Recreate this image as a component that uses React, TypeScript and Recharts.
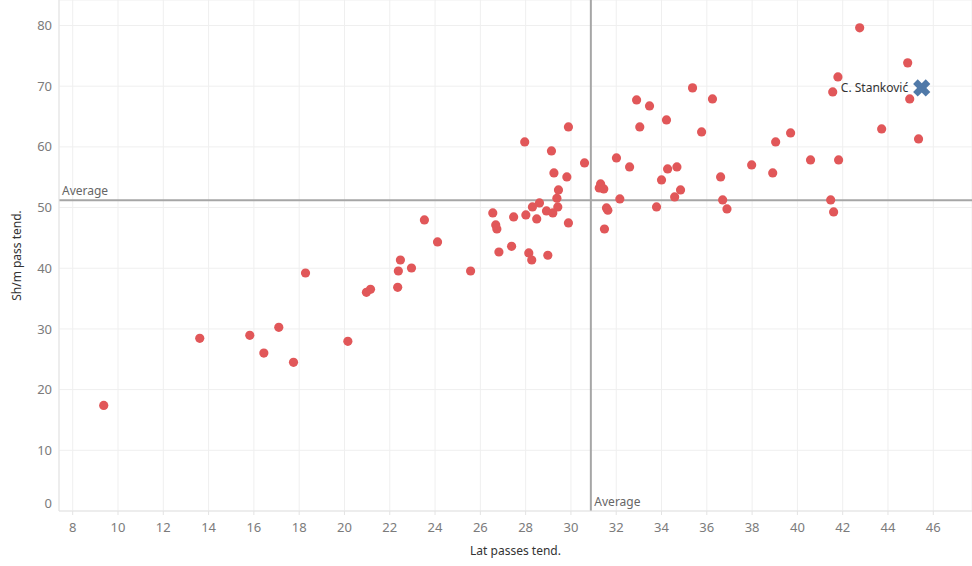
import React from 'react';
import { ScatterChart, Scatter, XAxis, YAxis, CartesianGrid, ReferenceLine } from 'recharts';

const latPasses = [
  9.37, 13.61, 15.82, 16.44, 17.1, 17.75, 18.28, 20.15, 20.97, 21.15,
  22.35, 22.38, 22.47, 22.96, 23.53, 24.11, 25.57, 26.55, 26.68, 26.73,
  26.82, 27.38, 27.47, 27.96, 28.01, 28.14, 28.27, 28.3, 28.49, 28.61,
  28.92, 28.98, 29.14, 29.2, 29.25, 29.38, 29.42, 29.45, 29.82, 29.89,
  29.89, 30.6, 31.25, 31.31, 31.45, 31.48, 31.57, 31.63, 32.01, 32.16,
  32.59, 32.9, 33.04, 33.47, 33.78, 34.0, 34.22, 34.27, 34.58, 34.68,
  34.84, 35.37, 35.77, 36.25, 36.61, 36.7, 36.89, 37.98, 38.91, 39.04,
  39.7, 40.58, 41.47, 41.56, 41.6, 41.79, 41.82, 42.75, 43.72, 44.87,
  44.96, 45.35,
];
const shortMediumPass = [
  17.4, 28.45, 28.95, 26.03, 30.27, 24.5, 39.22, 27.96, 36.04, 36.53,
  36.86, 39.55, 41.36, 40.04, 47.96, 44.33, 39.55, 49.11, 47.13, 46.47,
  42.68, 43.62, 48.45, 60.82, 48.78, 42.52, 41.36, 50.1, 48.12, 50.76,
  49.44, 42.14, 59.33, 49.11, 55.71, 51.53, 50.1, 52.9, 55.05, 63.29,
  47.46, 57.36, 53.23, 53.89, 53.07, 46.47, 49.94, 49.56, 58.18, 51.42,
  56.7, 67.74, 63.29, 66.75, 50.1, 54.55, 64.44, 56.36, 51.75, 56.7,
  52.9, 69.72, 62.46, 67.9, 55.05, 51.25, 49.77, 57.02, 55.71, 60.82,
  62.3, 57.85, 51.25, 69.06, 49.28, 71.53, 57.85, 79.61, 62.96, 73.84,
  67.9, 61.31,
];
const highlightName = 'C. Stanković';
const highlightLat = 45.49;
const highlightShort = 69.72;
const avgLat = 30.88;
const avgShort = 51.2;
const xTicks = [8, 10, 12, 14, 16, 18, 20, 22, 24, 26, 28, 30, 32, 34, 36, 38, 40, 42, 44, 46];
const yTicks = [0, 10, 20, 30, 40, 50, 60, 70, 80];
const xTitle = 'Lat passes tend.';
const yTitle = 'Sh/m pass tend.';
const avgText = 'Average';

const players = latPasses.map((x, i) => ({ x, y: shortMediumPass[i] }));
const highlight = [{ x: highlightLat, y: highlightShort, name: highlightName }];

const FONT = '"Noto Sans", sans-serif';
const TICK_COLOR = '#7b7b7b';

const YTick = (p: any) => {
  const { x, y, payload } = p;
  const dy = payload.value === 0 ? -8 : 0;
  return (
    <text x={x} y={y + dy} dy="0.355em" textAnchor="end" fill={TICK_COLOR} fontSize={13} fontFamily={FONT}>
      {payload.value}
    </text>
  );
};

const XTick = (p: any) => {
  const { x, y, payload } = p;
  return (
    <text x={x} y={y} dy="0.71em" textAnchor="middle" fill={TICK_COLOR} fontSize={13} fontFamily={FONT}>
      {payload.value}
    </text>
  );
};

const XTitle = (p: any) => {
  const vb = p.viewBox || { x: 59, y: 511, width: 913, height: 55 };
  return (
    <text x={vb.x + vb.width / 2} y={vb.y + vb.height - 11} textAnchor="middle" fill="#333" fontSize={12} fontFamily={FONT}>
      {xTitle}
    </text>
  );
};

const YTitle = (p: any) => {
  const vb = p.viewBox || { x: 0, y: 0, width: 59, height: 511 };
  const cx = vb.x + 21;
  const cy = vb.y + vb.height / 2;
  return (
    <text x={cx} y={cy} transform={`rotate(-90 ${cx} ${cy})`} textAnchor="middle" fill="#333" fontSize={12} fontFamily={FONT}>
      {yTitle}
    </text>
  );
};

const AvgLabelH = (p: any) => {
  const vb = p.viewBox;
  return (
    <text x={vb.x + 3} y={vb.y - 5} fill="#666" fontSize={12} fontFamily={FONT}>
      {avgText}
    </text>
  );
};

const AvgLabelV = (p: any) => {
  const vb = p.viewBox;
  return (
    <text x={vb.x + 3.5} y={vb.y + vb.height - 5} fill="#666" fontSize={12} fontFamily={FONT}>
      {avgText}
    </text>
  );
};

const Dot = (p: any) => <circle cx={p.cx} cy={p.cy} r={4.6} fill="#e15759" />;

const Cross = (p: any) => {
  const { cx, cy, payload } = p;
  const s = 6.3;
  return (
    <g>
      <line x1={cx - s} y1={cy - s} x2={cx + s} y2={cy + s} stroke="#5079a8" strokeWidth={6.5} />
      <line x1={cx - s} y1={cy + s} x2={cx + s} y2={cy - s} stroke="#5079a8" strokeWidth={6.5} />
      <text x={cx - 13.5} y={cy + 4.2} textAnchor="end" fill="#333" fontSize={12} fontFamily={FONT}>
        {payload.name}
      </text>
    </g>
  );
};

export default function App() {
  return (
    <div style={{ position: 'absolute', left: 0, top: 0, width: 972, height: 566, background: '#fff' }}>
      <ScatterChart width={972} height={566} margin={{ top: 0, right: 0, bottom: 0, left: 0 }}>
        <CartesianGrid stroke="#efefef" strokeWidth={1} />
        <XAxis
          type="number"
          dataKey="x"
          domain={[7.395, 47.71]}
          ticks={xTicks}
          height={55}
          axisLine={{ stroke: '#e3e3e3' }}
          tickLine={{ stroke: '#e3e3e3' }}
          tickSize={4}
          tickMargin={8}
          tick={<XTick />}
          interval={0}
          allowDataOverflow
          label={<XTitle />}
        />
        <YAxis
          type="number"
          dataKey="y"
          domain={[0, 84.2]}
          ticks={yTicks}
          width={59}
          axisLine={{ stroke: '#e3e3e3' }}
          tickLine={false}
          tickSize={5}
          tickMargin={2}
          tick={<YTick />}
          interval={0}
          allowDataOverflow
          label={<YTitle />}
        />
        <Scatter data={players} shape={<Dot />} isAnimationActive={false} />
        <ReferenceLine y={avgShort} stroke="#a6a6a6" strokeWidth={2} label={<AvgLabelH />} />
        <ReferenceLine x={avgLat} stroke="#a6a6a6" strokeWidth={2} label={<AvgLabelV />} />
        <Scatter data={highlight} shape={<Cross />} isAnimationActive={false} />
      </ScatterChart>
    </div>
  );
}
